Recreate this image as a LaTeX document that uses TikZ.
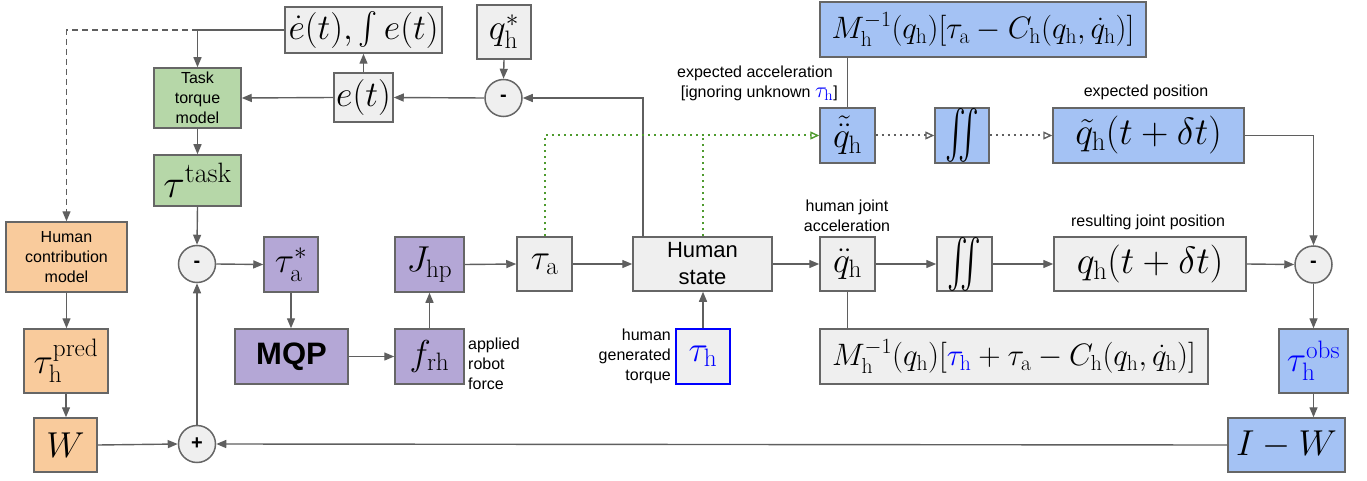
\RequirePackage{fix-cm}
\documentclass[tikz,border=0pt]{standalone}
\usepackage{amsmath}
\usepackage{graphicx}
\usepackage[no-math]{fontspec}
\newfontfamily\lsans{Liberation Sans}
\usetikzlibrary{arrows.meta}
\definecolor{bordc}{HTML}{666666}
\definecolor{linec}{HTML}{5F5F5F}
\definecolor{lgray}{HTML}{EFEFEF}
\definecolor{lgreen}{HTML}{B6D7A8}
\definecolor{lorange}{HTML}{F9CB9C}
\definecolor{lpurple}{HTML}{B4A7D6}
\definecolor{lblue}{HTML}{A4C2F4}
\definecolor{tblue}{HTML}{0000FF}
\definecolor{dgreen}{HTML}{4E9A2E}
\newcommand{\bigiint}{\raisebox{-0.1em}{\scalebox{1.25}[1.95]{$\iint$}}}
\newcommand{\midint}{\raisebox{-0.03em}{\scalebox{1.15}[1.3]{$\int$}}}
\begin{document}
\begin{tikzpicture}[x=1pt,y=-1pt,
  gbox/.style={draw=bordc, line width=1.5pt, fill=lgray, inner sep=0pt, font=\fontsize{36}{40}\selectfont},
  greenbox/.style={gbox, fill=lgreen},
  orbox/.style={gbox, fill=lorange},
  purbox/.style={gbox, fill=lpurple},
  bluebox/.style={gbox, fill=lblue},
  circ/.style={circle, draw=bordc, line width=1.5pt, fill=lgray, inner sep=0pt, minimum size=37pt, font=\lsans\bfseries\fontsize{20}{20}\selectfont},
  smalltxt/.style={font=\lsans\fontsize{16}{20}\selectfont, align=center, inner sep=0pt},
  lbl/.style={font=\lsans\fontsize{16}{20}\selectfont, inner sep=0pt},
  arr/.style={draw=linec, line width=1.4pt, -{Triangle[length=10pt,width=8pt]}},
  plainline/.style={draw=linec, line width=1.4pt},
  darr/.style={draw=linec, line width=1.4pt, dash pattern=on 6pt off 4pt, -{Triangle[length=10pt,width=8pt]}},
  dotarr/.style={draw=linec, line width=2pt, dash pattern=on 2pt off 4pt, -{Triangle[open,length=9pt,width=8pt,line width=1.4pt]}},
  gdot/.style={draw=dgreen, line width=2pt, dash pattern=on 2pt off 4pt},
  gdotarr/.style={gdot, -{Triangle[open,length=9pt,width=8pt,line width=1.4pt]}}
]
\useasboundingbox (0,0) rectangle (1367,481);

% top-left loop
\node[gbox, minimum width=157pt, minimum height=46pt] (edot) at (363.5,30) {$\dot e(t),\,$\midint$\,e(t)$};
\node[gbox, minimum width=54pt, minimum height=54pt] (qstar) at (504,32) {$q_{\mathrm h}^{*}$};
\node[circ] (m1) at (503.5,98) {-};
\node[gbox, minimum width=59pt, minimum height=49pt] (et) at (363.5,97.5) {$e(t)$};
\node[greenbox, minimum width=87pt, minimum height=60pt, smalltxt] (task) at (197.5,98) {Task\\torque\\model};
\node[greenbox, minimum width=87pt, minimum height=51pt, font=\fontsize{40}{42}\selectfont] (tautask) at (197.5,180.5) {$\tau^{\mathrm{task}}$};

% left column
\node[orbox, minimum width=121pt, minimum height=70pt, smalltxt] (hcm) at (66.5,257) {Human\\contribution\\model};
\node[orbox, minimum width=84pt, minimum height=64pt] (tpred) at (66,361) {$\tau_{\mathrm h}^{\mathrm{pred}}$};
\node[orbox, minimum width=63pt, minimum height=54pt] (wbox) at (65.5,445) {$W$};
\node[circ] (plus) at (197,444) {+};
\node[circ] (m2) at (197,264) {-};

% robot part
\node[purbox, minimum width=54pt, minimum height=55pt] (tastar) at (291,264.5) {$\tau_{\mathrm a}^{*}$};
\node[purbox, minimum width=113pt, minimum height=55pt, font=\lsans\bfseries\fontsize{31}{34}\selectfont] (mqp) at (291.5,356.5) {MQP};
\node[purbox, minimum width=69pt, minimum height=55pt] (frh) at (429.5,356.5) {$f_{\mathrm{rh}}$};
\node[purbox, minimum width=69pt, minimum height=55pt] (jhp) at (429.5,264.5) {$J_{\mathrm{hp}}$};
\node[lbl, anchor=west, align=left] (applied) at (468,364) {applied\\robot\\force};
\node[gbox, minimum width=55pt, minimum height=54pt] (taua) at (544.5,264) {$\tau_{\mathrm a}$};

% human
\node[gbox, minimum width=139pt, minimum height=54pt, font=\lsans\fontsize{22}{27}\selectfont, align=center] (hstate) at (702.5,264) {Human\\state};
\node[gbox, draw=tblue, minimum width=54pt, minimum height=55pt] (tauh) at (703,356.5) {$\color{tblue}\tau_{\mathrm h}$};
\node[lbl, anchor=east, align=right] (hgt) at (671,356) {human\\generated\\torque};

% lower chain
\node[gbox, minimum width=55pt, minimum height=54pt] (qdd) at (847.5,264) {$\ddot q_{\mathrm h}$};
\node[lbl, align=center] (hja) at (847,216) {human joint\\acceleration};
\node[gbox, minimum width=55pt, minimum height=54pt] (int2) at (964.5,264) {\bigiint};
\node[gbox, minimum width=192pt, minimum height=54pt, font=\fontsize{38}{40}\selectfont] (qh) at (1150,264) {$q_{\mathrm h}(t+\delta t)$};
\node[lbl] (rjp) at (1148,222) {resulting joint position};
\node[gbox, minimum width=388pt, minimum height=55pt, font=\fontsize{31}{34}\selectfont] (mlow) at (1014,356.5) {$M_{\mathrm h}^{-1}(q_{\mathrm h})[{\color{tblue}\tau_{\mathrm h}}+\tau_{\mathrm a}-C_{\mathrm h}(q_{\mathrm h},\dot q_{\mathrm h})]$};

% upper chain
\node[bluebox, minimum width=326pt, minimum height=55pt, font=\fontsize{31}{34}\selectfont] (mtop) at (983,29.5) {$M_{\mathrm h}^{-1}(q_{\mathrm h})[\tau_{\mathrm a}-C_{\mathrm h}(q_{\mathrm h},\dot q_{\mathrm h})]$};
\node[bluebox, minimum width=55pt, minimum height=55pt] (qtdd) at (847.5,135.5) {$\tilde{\ddot q}_{\mathrm h}$};
\node[lbl] (expacc) at (755,73) {expected acceleration};
\node[lbl, anchor=east] (ignor) at (838,93) {[ignoring unknown {\fontsize{22}{22}\selectfont$\color{tblue}\tau_{\mathrm h}$}]};
\node[bluebox, minimum width=54pt, minimum height=55pt] (int1) at (962,135.5) {\bigiint};
\node[bluebox, minimum width=191pt, minimum height=55pt, font=\fontsize{38}{40}\selectfont] (qt) at (1148.5,135.5) {$\tilde q_{\mathrm h}(t+\delta t)$};
\node[lbl] (exppos) at (1146,92) {expected position};

% right column
\node[circ] (m3) at (1313.5,264.5) {-};
\node[bluebox, minimum width=69pt, minimum height=64pt] (tobs) at (1313.5,361) {$\color{tblue}\tau_{\mathrm h}^{\mathrm{obs}}$};
\node[bluebox, minimum width=117pt, minimum height=54pt] (imw) at (1286.5,445) {$I-W$};

\coordinate (hsl) at (643,237);

% connectors
\draw[arr] (edot.west) -| (task.north);
\draw[darr] (task.north |- edot.west) -| (hcm.north);
\draw[arr] (et.north) -- (edot.south);
\draw[arr] (qstar.south) -- (m1.north);
\draw[arr] (m1.west) -- (et.east);
\draw[arr] (et.west) -- (task.east);
\draw[arr] (hsl) |- (m1.east);
\draw[arr] (task.south) -- (tautask.north);
\draw[arr] (tautask.south) -- (m2.north);
\draw[arr] (plus.north) -- (m2.south);
\draw[arr] (m2.east) -- (tastar.west);
\draw[arr] (tastar.south) -- (tastar.south |- mqp.north);
\draw[arr] (mqp.east) -- (frh.west);
\draw[arr] (frh.north) -- (jhp.south);
\draw[arr] (jhp.east) -- (taua.west);
\draw[arr] (taua.east) -- (hstate.west);
\draw[arr] (hstate.east) -- (qdd.west);
\draw[arr] (qdd.east) -- (int2.west);
\draw[arr] (int2.east) -- (qh.west);
\draw[arr] (qh.east) -- (m3.west);
\draw[arr] (qt.east) -| (m3.north);
\draw[arr] (m3.south) -- (tobs.north);
\draw[arr] (tobs.south) -- (tobs.south |- imw.north);
\draw[arr] (imw.west) -- (plus.east);
\draw[arr] (wbox.east) -- (plus.west);
\draw[arr] (hcm.south) -- (hcm.south |- tpred.north);
\draw[arr] (tpred.south) -- (tpred.south |- wbox.north);
\draw[arr] (tauh.north) -- (tauh.north |- hstate.south);
\draw[plainline] (qdd.south) -- (qdd.south |- mlow.north);
\draw[plainline] (qtdd.north |- mtop.south) -- (qtdd.north);
\draw[gdotarr] (taua.north) |- (qtdd.west);
\draw[gdot] (hstate.north) -- (hstate.north |- qtdd.west);
\draw[dotarr] (qtdd.east) -- (int1.west);
\draw[dotarr] (int1.east) -- (qt.west);
\end{tikzpicture}
\end{document}
